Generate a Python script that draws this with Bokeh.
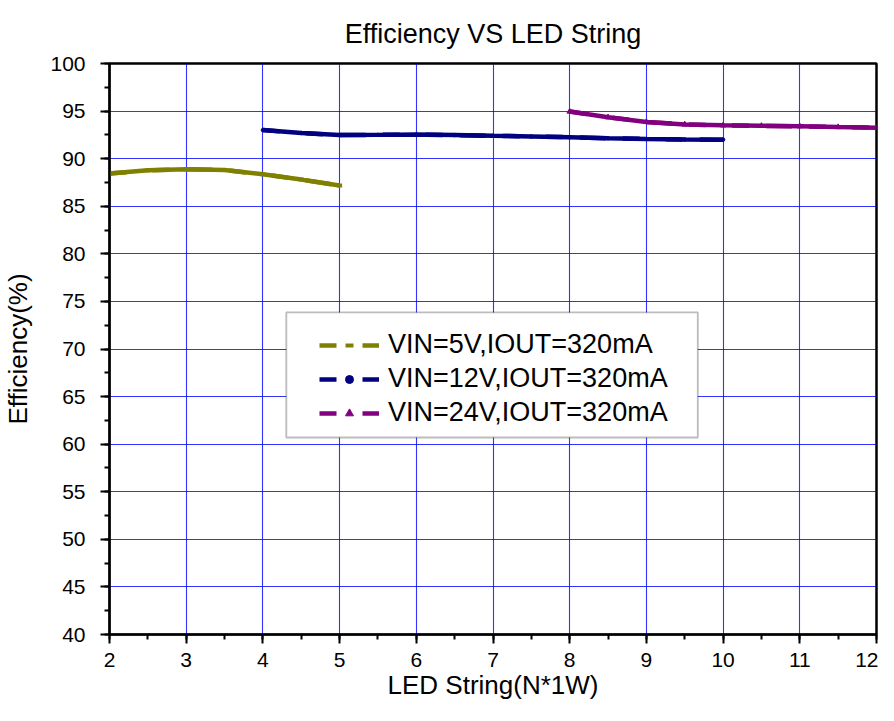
from bokeh.plotting import figure
from bokeh.models import (Range1d, SingleIntervalTicker, Legend, LegendItem,
                          BoxAnnotation)
from bokeh.embed import file_html
from bokeh.resources import INLINE

# ---------------- data ----------------
TITLE = "Efficiency VS LED String"
X_LABEL = "LED String(N*1W)"
Y_LABEL = "Efficiency(%)"

x_5v = [2, 2.5, 3, 3.5, 4, 4.5, 5]
eff_5v = [88.43, 88.78, 88.88, 88.8, 88.36, 87.8, 87.18]

x_12v = [4, 4.5, 5, 5.5, 6, 6.5, 7, 7.5, 8, 8.5, 9, 9.5, 10]
eff_12v = [93.0, 92.7, 92.48, 92.5, 92.53, 92.48, 92.4, 92.33, 92.25, 92.15, 92.07, 92.02, 92.0]

x_24v = [8, 8.5, 9, 9.5, 10, 10.5, 11, 11.5, 12]
eff_24v = [94.95, 94.35, 93.86, 93.6, 93.5, 93.45, 93.4, 93.32, 93.25]

series_labels = ["VIN=5V,IOUT=320mA", "VIN=12V,IOUT=320mA", "VIN=24V,IOUT=320mA"]
series_colors = ["#808000", "#000080", "#800080"]
series_markers = ["dash", "circle", "triangle"]
series_marker_sizes = [5, 3.5, 5.5]

X_MIN, X_MAX = 2, 12
Y_MIN, Y_MAX = 40, 100

FONT = "Liberation Sans"

# ---------------- figure ----------------
p = figure(width=878, height=705, output_backend="svg", toolbar_location=None,
           x_range=Range1d(X_MIN, X_MAX), y_range=Range1d(Y_MIN, Y_MAX),
           min_border_left=108, min_border_right=2, min_border_top=63,
           min_border_bottom=71)

p.title.text = TITLE
p.title.align = "center"
p.title.text_font = FONT
p.title.text_font_size = "27px"
p.title.text_font_style = "normal"
p.title.text_color = "black"
p.title.standoff = 30

p.outline_line_color = "black"
p.outline_line_width = 2.5
p.background_fill_color = "white"
p.border_fill_color = "white"

# axes
p.xaxis.ticker = SingleIntervalTicker(interval=1, num_minor_ticks=2)
p.yaxis.ticker = SingleIntervalTicker(interval=5, num_minor_ticks=2)
for ax in (p.xaxis[0], p.yaxis[0]):
    ax.axis_line_width = 2
    ax.axis_line_color = "black"
    ax.major_tick_line_width = 2
    ax.minor_tick_line_width = 2
    ax.major_tick_in = 0
    ax.minor_tick_in = 0
    ax.major_tick_out = 9
    ax.minor_tick_out = 5
    ax.major_label_text_font = FONT
    ax.major_label_text_font_size = "21px"
    ax.major_label_text_color = "black"
    ax.axis_label_text_font = FONT
    ax.axis_label_text_font_size = "26px"
    ax.axis_label_text_font_style = "normal"
    ax.axis_label_text_color = "black"

p.xaxis.axis_label = X_LABEL
p.yaxis.axis_label = Y_LABEL
p.xaxis.major_label_standoff = 9
p.xaxis.axis_label_standoff = 0
p.yaxis.major_label_standoff = 15
p.yaxis.axis_label_standoff = 14

# grid
p.xgrid.ticker = p.xaxis.ticker
p.ygrid.ticker = p.yaxis.ticker
for g in (p.xgrid[0], p.ygrid[0]):
    g.grid_line_color = "#0000FF"
    g.grid_line_alpha = 0.8
    g.grid_line_width = 1.1

# legend frame (white box behind the legend entries)
LEG_LEFT, LEG_RIGHT, LEG_TOP, LEG_BOTTOM = 4.305, 9.67, 73.84, 60.7
p.add_layout(BoxAnnotation(left=LEG_LEFT, right=LEG_RIGHT, top=LEG_TOP, bottom=LEG_BOTTOM,
                           fill_color="white", fill_alpha=1.0,
                           line_color="#222222", line_width=1.8, level="underlay"))

# data: dashed style + small symbols (hidden under the solid curve, used for legend samples)
items = []
for xs, ys, lab, c, m, ms in zip([x_5v, x_12v, x_24v], [eff_5v, eff_12v, eff_24v],
                                 series_labels, series_colors, series_markers,
                                 series_marker_sizes):
    dash_r = p.line(xs, ys, line_color=c, line_width=4.5, line_dash="17 26 17")
    if m == "dash":
        mk_r = p.scatter(xs, ys, marker=m, size=ms, line_color=c, line_width=4)
    else:
        mk_r = p.scatter(xs, ys, marker=m, size=ms, fill_color=c, line_color=c)
    p.line(xs, ys, line_color=c, line_width=4.5)
    items.append(LegendItem(label=lab, renderers=[dash_r, mk_r]))

legend = Legend(items=items, location=(210, 206), padding=0, spacing=3,
                label_height=30, glyph_width=60, glyph_height=20, label_standoff=9,
                border_line_alpha=0, background_fill_alpha=0,
                label_text_font=FONT, label_text_font_size="27px",
                label_text_color="black", margin=0)
p.add_layout(legend)

open("out.html", "w").write(file_html(p, INLINE))
